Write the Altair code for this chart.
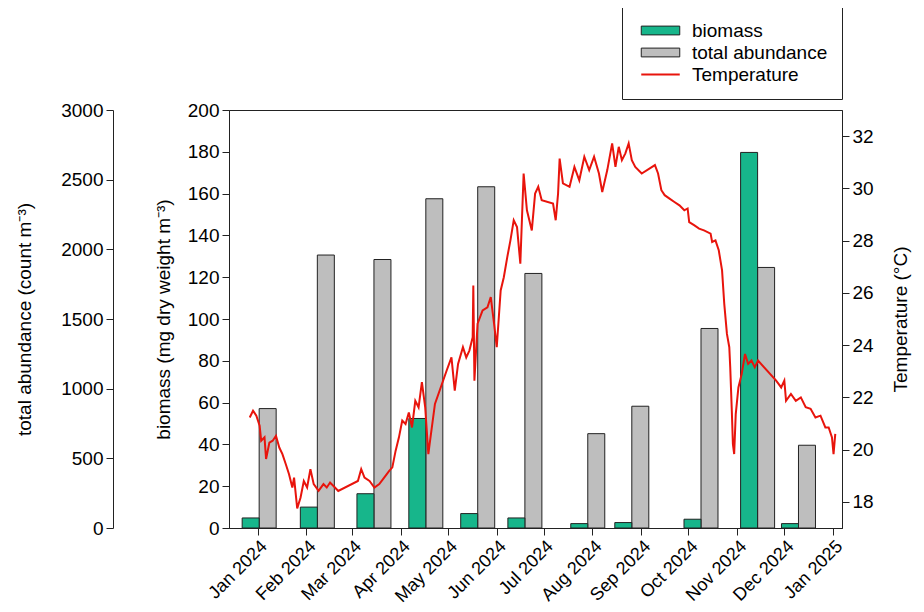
import altair as alt
import pandas as pd

FONT = "Liberation Sans"
GREEN = "#17b68b"
GRAY = "#bebebe"
RED = "#e8140c"
INK = "#222222"

# sampling dates (bars)
sample_dates = ["2024-01-02", "2024-02-08", "2024-03-15", "2024-04-17", "2024-05-20",
                "2024-06-19", "2024-07-29", "2024-08-26", "2024-10-09", "2024-11-14",
                "2024-12-10"]
biomass = [4.8, 10.0, 16.4, 52.4, 6.9, 4.8, 2.1, 2.6, 4.2, 179.7, 2.1]
abundance = [857, 1959, 1927, 2363, 2449, 1827, 677, 874, 1432, 1870, 594]

# temperature record: days since 2024-01-01 and value in degC
temp_day = [
    -5.0, -2.9, -0.8, 1.3, 2.3, 4.4, 5.4, 7.5, 9.6, 11.7, 13.8, 15.8, 17.9, 20.0,
    22.1, 23.2, 25.2, 27.3, 29.4, 31.5, 33.6, 35.7, 38.8, 41.9, 44.0, 46.1, 49.2, 51.3,
    63.8, 65.9, 68.0, 71.2, 74.3, 77.4, 80.5, 83.7, 85.7, 87.8, 89.9, 92.0, 94.1,
    96.2, 98.2, 100.3, 102.4, 104.5, 106.6, 108.6, 109.7, 112.8,
    120.2, 123.3, 125.4, 127.5, 130.6, 132.7, 134.7, 136.8, 137.2, 137.9, 139.9,
    143.1, 146.2, 148.3, 150.4, 152.1, 154.6, 156.6, 158.8, 160.8, 162.9, 165.0,
    167.1, 169.2, 171.3, 174.4, 176.5, 178.5, 180.7,
    187.9, 189.6, 191.1, 192.1, 194.2,
    198.4, 201.5, 204.6, 207.8, 210.9, 214.0, 217.1, 219.2, 222.4, 225.5, 227.6,
    229.7, 231.7, 233.9, 236.0, 238.0, 240.2, 244.3,
    252.7, 254.7, 256.8, 258.9, 262.0, 265.1, 268.3, 271.4, 273.5, 274.5, 277.6,
    280.8, 283.9,
    288.1, 289.1, 291.2, 293.3, 295.4, 296.8, 298.5, 300.0, 300.6, 301.6, 302.3,
    303.1, 304.1, 305.8, 307.9, 310.0, 312.0, 314.1, 316.2, 318.3,
    329.8, 333.0, 335.0, 336.1, 339.2, 342.3, 345.5, 348.6, 351.7, 354.8, 358.0,
    361.1, 363.2, 365.3, 366.3, 367.4,
]
temp_val = [
    21.23, 21.49, 21.30, 20.92, 20.34, 20.47, 19.64, 20.27, 20.34, 20.53, 20.08, 19.83,
    19.45, 19.06, 18.55, 18.93, 17.75, 18.16, 18.80, 18.55, 19.25, 18.68, 18.42, 18.68,
    18.55, 18.74, 18.55, 18.42,
    18.80, 19.25, 18.93, 18.80, 18.55, 18.68, 18.93, 19.19, 19.32, 19.96, 20.47, 21.11,
    20.98, 21.42, 20.85, 21.87, 21.62, 22.58, 21.62, 19.83, 20.34, 21.75,
    23.02, 23.53, 22.26, 23.28, 23.92, 23.53, 23.79, 24.30, 26.28, 22.64, 24.82, 25.33,
    25.45, 25.84, 24.82, 23.92, 26.09, 26.60, 27.37, 28.01, 28.78, 28.52, 27.12, 30.57,
    29.16, 28.39, 29.80, 30.06, 29.55,
    29.42, 28.78, 29.80, 31.14, 30.19,
    30.06, 30.82, 30.31, 31.21, 30.70, 31.21, 30.57, 29.86, 30.70, 31.72, 30.82, 31.59,
    31.08, 31.34, 31.72, 31.08, 30.82, 30.57,
    30.89, 30.57, 29.93, 29.74, 29.61, 29.48, 29.35, 29.16, 29.23, 28.71, 28.59, 28.46,
    28.39,
    28.27, 27.95, 28.01, 27.63, 26.86, 25.58, 24.43, 23.92, 23.15, 21.49, 20.21, 19.83,
    21.36, 22.38, 22.90, 23.66, 23.28, 23.41, 23.15, 23.41,
    22.64, 22.38, 22.64, 21.87, 22.13, 21.87, 22.00, 21.62, 21.56, 21.23, 21.30, 20.85,
    20.85, 20.47, 19.83, 20.60,
]

series = ["biomass", "total abundance", "Temperature"]
biomass_ticks = list(range(0, 201, 20))
abundance_ticks = list(range(0, 3001, 500))
temp_ticks = list(range(18, 33, 2))
month_ticks = [(2024, m) for m in range(1, 13)] + [(2025, 1)]

bars_df = pd.DataFrame({
    "date": pd.to_datetime(sample_dates),
    "biomass": biomass,
    "abundance": abundance,
})
bars_df["s_bio"] = series[0]
bars_df["s_abu"] = series[1]

temp_df = pd.DataFrame({
    "date": pd.Timestamp("2024-01-01") + pd.to_timedelta(temp_day, unit="D"),
    "temp": temp_val,
})
temp_df["s"] = series[2]

x_scale = alt.Scale(domain=[alt.DateTime(year=2023, month=12, date=17),
                            alt.DateTime(year=2025, month=1, date=3, hours=12)])
x_axis = alt.Axis(title=None, format="%b %Y",
                  values=[alt.DateTime(year=y, month=m, date=1) for y, m in month_ticks],
                  labelAngle=315, labelAlign="right", labelBaseline="top",
                  labelFontSize=18, labelPadding=2, labelOverlap=False, grid=False)
x_enc = alt.X("date:T", scale=x_scale, axis=x_axis)

LEG_X, LEG_Y = 393, -103
legend_common = dict(
    title=None, orient="none", legendX=LEG_X, legendY=LEG_Y, direction="vertical",
    padding=14, labelFont=FONT, labelFontSize=19, labelColor="black",
    symbolSize=121, symbolOffset=15, labelOffset=22, rowPadding=2,
)
# boxed legend carrying all three labels and the temperature line symbol
line_legend = alt.Legend(
    strokeColor=INK, fillColor="white", cornerRadius=0,
    symbolType="M-3.5,0L3.5,0", symbolStrokeWidth=2, zindex=0,
    **legend_common,
)
# overlay legend carrying the two bar swatches
bar_legend = alt.Legend(
    symbolType="M-3.5,-0.8L3.5,-0.8L3.5,0.8L-3.5,0.8Z", symbolStrokeColor=INK,
    symbolStrokeWidth=1, symbolOpacity=1, labelOpacity=0, zindex=1,
    **legend_common,
)

fill_scale = alt.Scale(domain=series[:2], range=[GREEN, GRAY])
stroke_scale = alt.Scale(domain=series, range=["transparent", "transparent", RED])

abund_bars = alt.Chart(bars_df).mark_bar(
    width=17, xOffset=8.5, stroke=INK, strokeWidth=1, opacity=1
).encode(
    x=x_enc,
    y=alt.Y("abundance:Q", scale=alt.Scale(domain=[0, 3000], nice=False),
            axis=alt.Axis(orient="left", offset=116, values=abundance_ticks, format="d",
                          title="total abundance (count m⁻³)", titlePadding=26)),
    fill=alt.Fill("s_abu:N", scale=fill_scale, legend=bar_legend),
)

bio_bars = alt.Chart(bars_df).mark_bar(
    width=17, xOffset=-8.5, stroke=INK, strokeWidth=1, opacity=1
).encode(
    x=x_enc,
    y=alt.Y("biomass:Q", scale=alt.Scale(domain=[0, 200], nice=False),
            axis=alt.Axis(orient="left", values=biomass_ticks,
                          title="biomass (mg dry weight m⁻³)", titlePadding=14)),
    fill=alt.Fill("s_bio:N", scale=fill_scale, legend=bar_legend),
)

temp_line = alt.Chart(temp_df).mark_line(strokeWidth=2, clip=True).encode(
    x=x_enc,
    y=alt.Y("temp:Q", scale=alt.Scale(domain=[17, 33], nice=False, zero=False),
            axis=alt.Axis(orient="right", values=temp_ticks, title="Temperature (°C)",
                          titleAngle=270, titleBaseline="top", titlePadding=18)),
    stroke=alt.Stroke("s:N", scale=stroke_scale, legend=line_legend),
)

chart = alt.layer(abund_bars, bio_bars, temp_line).resolve_scale(
    y="independent"
).properties(
    width=613, height=418,
    padding={"left": 221, "top": 102, "right": 74, "bottom": 78},
    autosize=alt.AutoSizeParams(type="none"),
).configure(
    font=FONT,
).configure_view(
    stroke=INK, strokeWidth=1,
).configure_axis(
    domainColor=INK, tickColor=INK, tickSize=7, labelColor="black",
    labelFont=FONT, labelFontSize=19, labelPadding=3,
    titleFont=FONT, titleFontSize=19, titleFontWeight="normal", titleColor="black",
    grid=False,
)

chart.save("out.html", embed_options={"renderer": "svg", "actions": False})
